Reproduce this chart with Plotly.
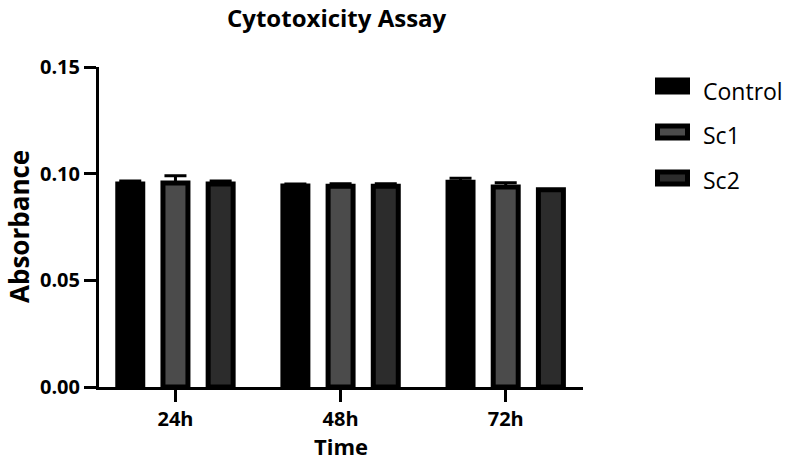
import plotly.graph_objects as go

# ---- data ----
categories = ["24h", "48h", "72h"]
series_names = ["Control", "Sc1", "Sc2"]
control = [0.0952, 0.0942, 0.0960]
sc1 = [0.0956, 0.0941, 0.0938]
sc2 = [0.0952, 0.0941, 0.0925]
control_err = [0.0014, 0.0010, 0.0019]
sc1_err = [0.0034, 0.0012, 0.0020]
sc2_err = [0.0014, 0.0012, 0.0]
y_tickvals = [0, 0.05, 0.10, 0.15]
y_ticktext = ["0.00", "0.05", "0.10", "0.15"]
title_text = "Cytotoxicity Assay"
x_title = "Time"
y_title = "Absorbance"

fills = ["#000000", "#4b4b4b", "#2c2c2c"]
values = [control, sc1, sc2]
errors = [control_err, sc1_err, sc2_err]

W, H = 793, 462
L, R, T, B = 99, 210, 67, 75
PW, PH = W - L - R, H - T - B

FONT = "Open Sans"

def px_x(px):
    return (px - L) / PW

def px_y(py):
    return (H - B - py) / PH

fig = go.Figure()
for name, vals, errs, col in zip(series_names, values, errors, fills):
    fig.add_trace(go.Bar(
        x=categories, y=vals, name=name,
        marker=dict(color=col, line=dict(color="#000000", width=5)),
        error_y=dict(type="data", array=errs, arrayminus=[0] * len(errs),
                     symmetric=False, color="#000000", thickness=3, width=11),
        showlegend=False,
    ))

# custom legend (swatches + labels)
sw_centers = [86, 132, 178]
txt_centers = [91, 135, 180]
shapes = []
annotations = []
for name, col, sc, tc in zip(series_names, fills, sw_centers, txt_centers):
    shapes.append(dict(type="rect", xref="paper", yref="paper",
                       x0=px_x(657.5), x1=px_x(687.5),
                       y0=px_y(sc + 6), y1=px_y(sc - 6),
                       fillcolor=col, line=dict(color="#000000", width=5)))
    annotations.append(dict(text=name, xref="paper", yref="paper",
                            x=px_x(701), y=px_y(tc), xanchor="left", yanchor="middle",
                            showarrow=False,
                            font=dict(family=FONT, size=23, color="#000000")))

# chart title and axis titles as positioned text
annotations.append(dict(text="<b>%s</b>" % title_text, xref="paper", yref="paper",
                        x=px_x(336.5), y=px_y(0), xanchor="center", yanchor="top",
                        showarrow=False, borderpad=0,
                        font=dict(family=FONT, size=24, color="#000000")))
annotations.append(dict(text="<b>%s</b>" % x_title, xref="paper", yref="paper",
                        x=0.5, y=px_y(H), xanchor="center", yanchor="bottom",
                        showarrow=False, borderpad=0,
                        font=dict(family=FONT, size=22, color="#000000")))
annotations.append(dict(text="<b>%s</b>" % y_title, xref="paper", yref="paper",
                        x=px_x(0), y=0.5, xanchor="left", yanchor="middle",
                        textangle=-90, showarrow=False, borderpad=0,
                        font=dict(family=FONT, size=26, color="#000000")))

fig.update_layout(
    width=W, height=H,
    margin=dict(l=L, r=R, t=T, b=B, autoexpand=False),
    paper_bgcolor="white", plot_bgcolor="white",
    barmode="group", bargap=0.179, bargroupgap=0.447,
    shapes=shapes, annotations=annotations,
    showlegend=False,
)
fig.update_xaxes(
    range=[-0.463, 2.468], showline=True, linecolor="#000000", linewidth=3,
    ticks="outside", ticklen=12, tickwidth=3, tickcolor="#000000",
    showgrid=False, zeroline=False,
    tickfont=dict(family=FONT, size=20, color="#000000", weight="bold"),
)
fig.update_yaxes(
    range=[0, 0.15], showline=True, linecolor="#000000", linewidth=3,
    ticks="outside", ticklen=12, tickwidth=3, tickcolor="#000000",
    tickvals=y_tickvals, ticktext=y_ticktext,
    showgrid=False, zeroline=False,
    tickfont=dict(family=FONT, size=20, color="#000000", weight="bold"),
)

fig.write_html("out.html")
